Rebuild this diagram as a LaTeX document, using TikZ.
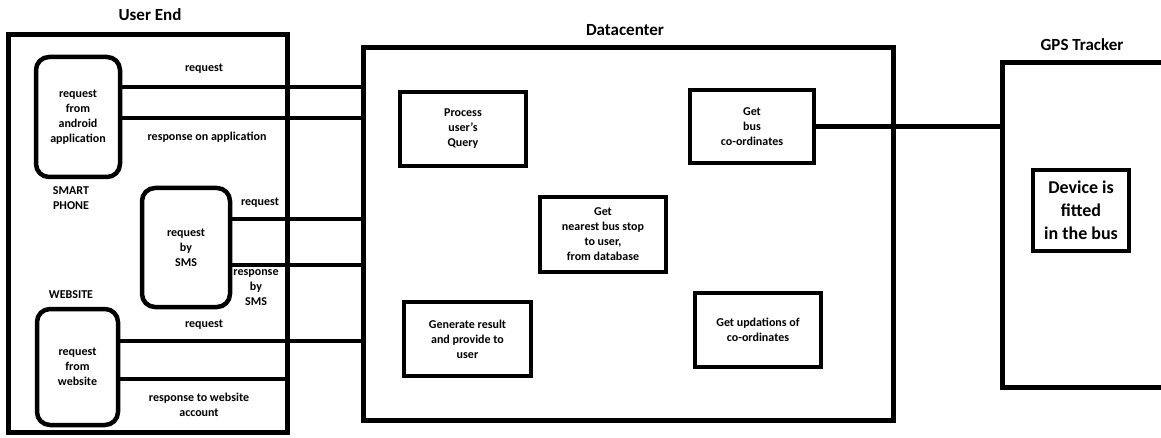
\documentclass[tikz,border=0pt]{standalone}
\usepackage{fontspec}
\setmainfont{Carlito}
\usetikzlibrary{positioning}
\newcommand{\smalltxt}{\fontsize{12}{15}\selectfont\bfseries}
\newcommand{\titletxt}{\fontsize{17}{20}\selectfont\bfseries}
\newcommand{\devtxt}{\fontsize{18}{23}\selectfont\bfseries}

\begin{document}
\begin{tikzpicture}[
    x=1pt, y=-1pt,
    line width=4.5pt,
]
\tikzset{
    outer_box/.style = {draw, line width=5pt, inner sep=0pt},
    side_box/.style = {draw, rounded corners=13pt, inner sep=0pt, align=center, font=\smalltxt},
    proc_box/.style = {draw, inner sep=0pt, align=center, font=\smalltxt},
    lbl_txt/.style = {inner sep=0pt, align=center, font=\smalltxt},
    title_txt/.style = {inner sep=0pt, font=\titletxt},
    conn/.style = {line cap=butt},
}

\useasboundingbox (0,0) rectangle (1161,438);
\clip (0,0) rectangle (1161,438);

% Titles
\node[title_txt] (ue_title) at (150,15) {User End};
\node[title_txt] (dc_title) at (625,30) {Datacenter};
\node[title_txt] (gps_title) at (1082,45) {GPS Tracker};

% Outer boxes
\node[outer_box, minimum width=279, minimum height=397] (userend) at (147.5,233.5) {};
\node[outer_box, minimum width=530, minimum height=372] (dc) at (628,234) {};
\node[outer_box, minimum width=218, minimum height=324] (gps) at (1111,225) {};

% User end
\node[side_box, minimum width=84, minimum height=120] (android) at (78,117)
    {request\\from\\android\\application};
\node[side_box, minimum width=88, minimum height=119] (sms) at (186,247.5)
    {request\\by\\SMS};
\node[side_box, minimum width=81, minimum height=116] (web) at (77.5,367)
    {request\\from\\website};
\node[lbl_txt] (phone_lbl) at (71,198) {SMART\\PHONE};
\node[lbl_txt] (web_lbl) at (71,295) {WEBSITE};

% Datacenter
\node[proc_box, minimum width=126, minimum height=74] (process) at (463,129)
    {Process\\user's\\Query};
\node[proc_box, minimum width=124, minimum height=73] (getbus) at (752,126.5)
    {Get\\bus\\co-ordinates};
\node[proc_box, minimum width=126, minimum height=75] (nearest) at (603,234.5)
    {Get\\nearest bus stop\\to user,\\from database};
\node[proc_box, minimum width=127, minimum height=74] (generate) at (467.5,339)
    {Generate result\\ and provide to\\user};
\node[proc_box, minimum width=126, minimum height=74] (updations) at (758,330)
    {Get updations of\\co-ordinates};

% GPS tracker
\node[draw, inner sep=0pt, align=center, font=\devtxt, minimum width=96, minimum height=81] (device) at (1081,210.5)
    {Device is\\fitted\\in the bus};

% Connectors
\draw[conn] (android.east |- 0,87) -- (dc.west |- 0,87);
\draw[conn] (android.east |- 0,118) -- (dc.west |- 0,118);
\draw[conn] (sms.east |- 0,219) -- (dc.west |- 0,219);
\draw[conn] (sms.east |- 0,265) -- (dc.west |- 0,265);
\draw[conn] (web.east |- 0,341) -- (dc.west |- 0,341);
\draw[conn] (web.east |- 0,379) -- (userend.east |- 0,379);
\draw[conn] (getbus.east) -- (gps.west |- getbus.east);

% Connector labels
\node[lbl_txt] (app_req) at (204,69) {request};
\node[lbl_txt] (app_resp) at (207,137) {response on application};
\node[lbl_txt] (sms_req) at (260,203) {request};
\node[lbl_txt] (sms_resp) at (256,288) {response\\by\\SMS};
\node[lbl_txt] (web_req) at (204,325) {request};
\node[lbl_txt] (web_resp) at (199,405) {response to website\\account};

\end{tikzpicture}
\end{document}
